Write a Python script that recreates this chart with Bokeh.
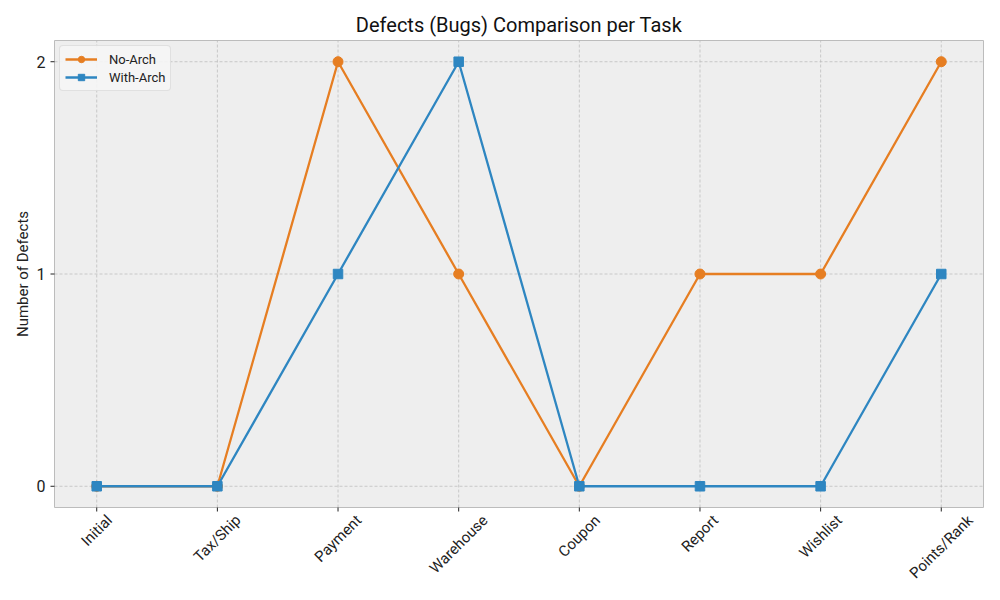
from bokeh.plotting import figure
from bokeh.models import Legend, LegendItem, Range1d, LabelSet, Label, ColumnDataSource
from bokeh.core.properties import value
from bokeh.embed import file_html
from bokeh.resources import INLINE
import math

tasks = ["Initial", "Tax/Ship", "Payment", "Warehouse", "Coupon", "Report", "Wishlist", "Points/Rank"]
no_arch = [0, 0, 2, 1, 0, 1, 1, 2]
with_arch = [0, 0, 1, 2, 0, 0, 0, 1]
y_ticks = [0, 1, 2]
y_tick_labels = ["0", "1", "2"]
title_text = "Defects (Bugs) Comparison per Task"
y_label_text = "Number of Defects"

FONT = "Roboto"
ORANGE = "#e67e22"
BLUE = "#2e86c1"
TXT = "#222222"
FS = 15

xs = list(range(len(tasks)))
# axes limits (matplotlib-like 5% margins)
X0, X1 = -0.35, len(tasks) - 1 + 0.35
Y0, Y1 = -0.1, 2.1

# layout of the plotting area on the canvas (px)
FW, FH = 984, 584
L, R, T, B = 54, 983, 40, 507
pxu = (R - L) / (X1 - X0)
pyu = (B - T) / (Y1 - Y0)

# approximate Roboto advance widths (em) to centre rotated labels under ticks
CW = {"I": .27, "n": .55, "i": .24, "t": .33, "a": .54, "l": .24, "T": .49, "x": .50,
      "/": .41, "S": .59, "h": .55, "p": .56, "P": .63, "y": .47, "m": .87, "e": .53,
      "W": .87, "r": .34, "o": .57, "u": .55, "s": .52, "C": .65, "R": .62, "k": .50,
      "c": .52, "H": .71, "N": .71}


def text_w(s):
    return sum(CW.get(ch, .55) for ch in s) * FS


p = figure(width=FW, height=FH, output_backend="svg", toolbar_location=None,
           x_axis_type=None, y_axis_type=None,
           x_range=Range1d(X0 - L / pxu, X1 + (FW - R) / pxu),
           y_range=Range1d(Y0 - (FH - B) / pyu, Y1 + T / pyu),
           min_border=0)
p.outline_line_color = None
p.background_fill_color = "white"
p.border_fill_color = "white"
p.grid.visible = False

# plotting-area background and frame
p.quad(left=[X0], right=[X1], bottom=[Y0], top=[Y1],
       fill_color="#eeeeee", line_color="#bcbcbc", line_width=1)

# grid
p.segment(x0=xs, y0=[Y0] * len(xs), x1=xs, y1=[Y1] * len(xs),
          line_color="#b8b8b8", line_dash="3 2", line_width=0.7)
p.segment(x0=[X0] * len(y_ticks), y0=y_ticks, x1=[X1] * len(y_ticks), y1=y_ticks,
          line_color="#b8b8b8", line_dash="3 2", line_width=0.7)

# ticks
p.segment(x0=xs, y0=[Y0] * len(xs), x1=xs, y1=[Y0 - 4 / pyu] * len(xs),
          line_color=TXT, line_width=1)
p.segment(x0=[X0 - 4 / pxu] * len(y_ticks), y0=y_ticks, x1=[X0] * len(y_ticks), y1=y_ticks,
          line_color=TXT, line_width=1)

# data
l1 = p.line(xs, no_arch, line_color=ORANGE, line_width=2.3)
m1 = p.scatter(xs, no_arch, marker="circle", size=10, fill_color=ORANGE, line_color=ORANGE)
l2 = p.line(xs, with_arch, line_color=BLUE, line_width=2.3)
m2 = p.scatter(xs, with_arch, marker="square", size=9.5, fill_color=BLUE, line_color=BLUE)

# x tick labels: rotated 45 degrees, centred under the ticks
offs = [-(5 + (text_w(t) + FS) / (2 * math.sqrt(2))) for t in tasks]
xlab_src = ColumnDataSource(dict(x=xs, y=[Y0] * len(xs), text=tasks, off=offs))
p.add_layout(LabelSet(x="x", y="y", text="text", source=xlab_src, y_offset="off",
                      angle=math.pi / 4, text_align="center", text_baseline="middle",
                      text_font=value(FONT), text_font_size=f"{FS}px", text_color=TXT))

# y tick labels
ylab_src = ColumnDataSource(dict(x=[X0] * len(y_ticks), y=y_ticks, text=y_tick_labels))
p.add_layout(LabelSet(x="x", y="y", text="text", source=ylab_src, x_offset=-9,
                      text_align="right", text_baseline="middle",
                      text_font=value(FONT), text_font_size="16px", text_color=TXT))

# axis title
p.add_layout(Label(x=X0, y=(Y0 + Y1) / 2, x_offset=-32, text=y_label_text, angle=math.pi / 2,
                   text_align="center", text_baseline="middle",
                   text_font=FONT, text_font_size="15px", text_color=TXT))

# chart title
p.add_layout(Label(x=(X0 + X1) / 2, y=Y1, y_offset=16, text=title_text,
                   text_align="center", text_baseline="middle",
                   text_font=FONT, text_font_size="20px", text_color="#111111"))

legend = Legend(items=[LegendItem(label="No-Arch", renderers=[l1, m1]),
                       LegendItem(label="With-Arch", renderers=[l2, m2])],
                location=(59, FH - 91))
legend.label_text_font = FONT
legend.label_text_font_size = "13px"
legend.label_text_color = TXT
legend.background_fill_color = "#f5f5f5"
legend.background_fill_alpha = 0.9
legend.border_line_color = "#cccccc"
legend.border_radius = 4
legend.margin = 0
legend.padding = 5
legend.spacing = 2
legend.glyph_width = 32
legend.label_height = 16
legend.glyph_height = 16
legend.label_standoff = 12
p.add_layout(legend)

open("out.html", "w").write(file_html(p, INLINE))
